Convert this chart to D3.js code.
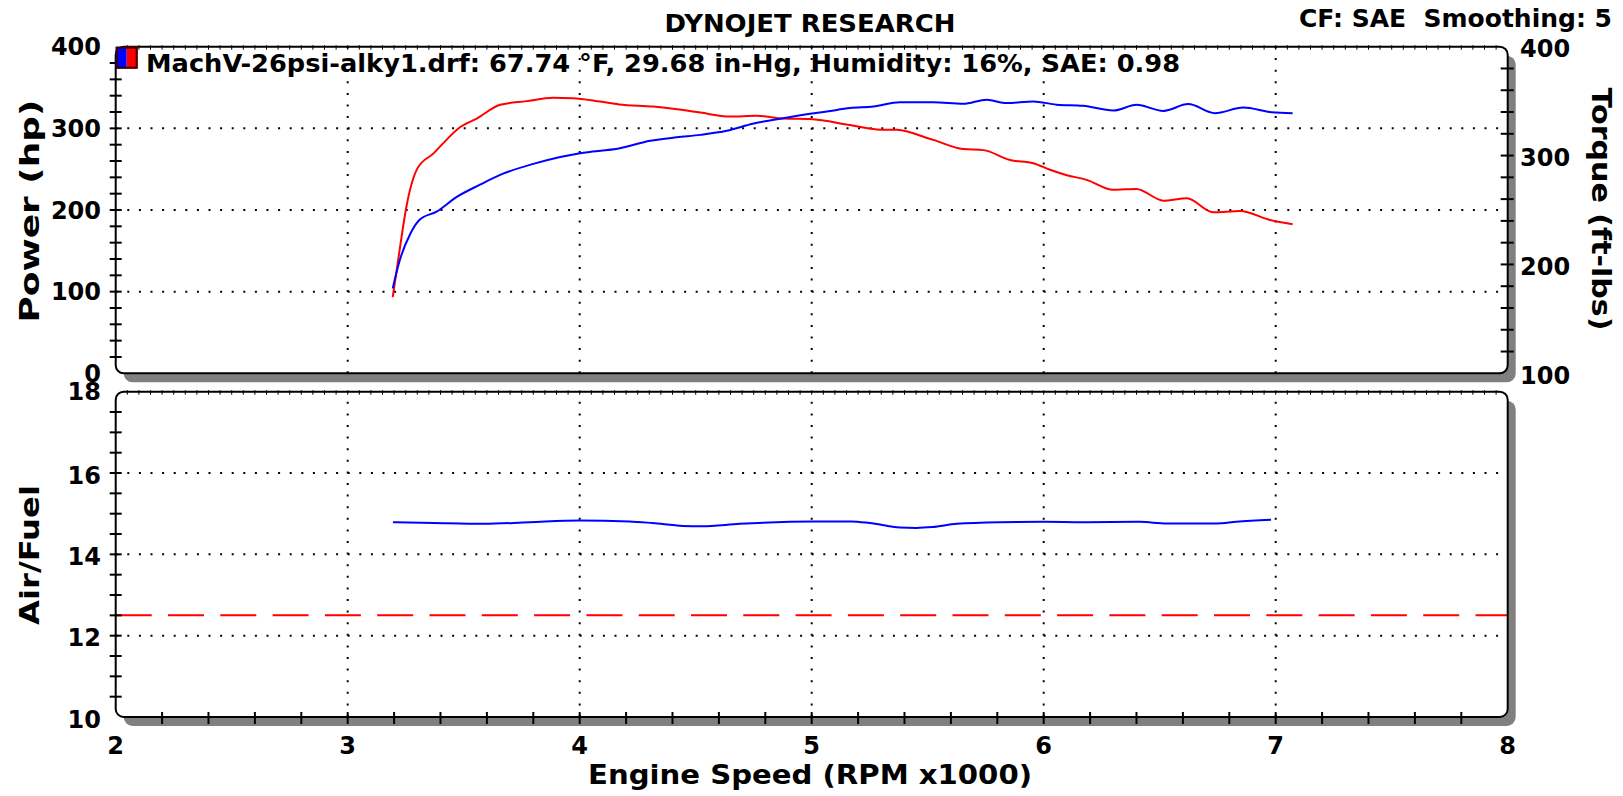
<!DOCTYPE html>
<html>
<head>
    <script src="https://d3js.org/d3.v7.min.js"></script>
    <title> Dyno chart </title>
    <style>
        body { margin: 0; background: white; }
        text { font-family: "DejaVu Sans", Verdana, sans-serif; font-weight: bold; fill: black; }
    </style>
</head>
<body>
    <svg id="plot" height="796" width="1623"></svg>
    <script>
        // data
        const powerRpm = [3.194, 3.225, 3.27, 3.31, 3.383, 3.47, 3.57, 3.657, 3.8, 3.916, 4.002, 4.174, 4.304, 4.418, 4.52, 4.634, 4.75, 4.878, 4.993, 5.065, 5.166, 5.266, 5.38, 5.524, 5.653, 5.754, 5.84, 5.955, 6.055, 6.17, 6.30, 6.40, 6.516, 6.623, 6.738, 6.86, 6.983, 7.073];
        const powerHp = [104, 139, 171, 188, 198, 216, 231, 243, 256.5, 265, 269.6, 275.7, 284.7, 289, 292, 297, 306, 312.5, 317.8, 320.6, 324.8, 326.7, 332, 332, 330, 335, 331, 333, 329, 327.6, 321.8, 328.8, 321.4, 329.7, 318.6, 325.5, 319.8, 318.6];

        const torqueRpm = [3.194, 3.225, 3.253, 3.30, 3.37, 3.41, 3.484, 3.556, 3.657, 3.77, 3.886, 3.97, 4.088, 4.17, 4.317, 4.42, 4.52, 4.648, 4.763, 4.878, 4.993, 5.165, 5.28, 5.366, 5.524, 5.653, 5.74, 5.855, 5.955, 6.027, 6.1, 6.185, 6.30, 6.40, 6.516, 6.617, 6.73, 6.846, 6.975, 7.073];
        const torqueFtLb = [170, 215, 253, 288, 302, 311, 326, 334, 346.6, 350, 353, 352.7, 349.6, 347, 345, 342.6, 339.5, 335.8, 336.5, 334, 333.5, 328, 324, 323.6, 314.4, 306, 305, 296, 293, 287, 282, 277.7, 268.5, 269.4, 258.6, 260.8, 248, 249, 240.9, 237];

        const afrRpm = [3.195, 3.372, 3.586, 3.784, 3.999, 4.214, 4.313, 4.444, 4.526, 4.69, 5.005, 5.17, 5.25, 5.38, 5.45, 5.52, 5.625, 5.81, 6.0, 6.17, 6.415, 6.53, 6.745, 6.83, 6.98];
        const afrValue = [14.79, 14.77, 14.75, 14.79, 14.83, 14.81, 14.77, 14.70, 14.69, 14.75, 14.81, 14.81, 14.77, 14.66, 14.65, 14.67, 14.75, 14.79, 14.80, 14.79, 14.80, 14.76, 14.76, 14.80, 14.85];
        const afrTarget = 12.5;

        const rpmTicks = [2, 3, 4, 5, 6, 7, 8];
        const powerTicks = [0, 100, 200, 300, 400];
        const torqueTicks = [100, 200, 300, 400];
        const afrTicks = [10, 12, 14, 16, 18];

        const legendText = 'MachV-26psi-alky1.drf: 67.74 °F, 29.68 in-Hg, Humidity: 16%, SAE: 0.98';

        const svg = d3.select('svg#plot');

        const left = 115.7, right = 1507.7;
        const top1 = 46.7, bot1 = 373.3;
        const top2 = 391.7, bot2 = 717;

        //SCALES
        const x = d3.scaleLinear().domain([2, 8]).range([left, right]);
        const yPow = d3.scaleLinear().domain([0, 400]).range([bot1, top1]);
        const yTq = d3.scaleLinear().domain([100, 400]).range([bot1, top1]);
        const yAfr = d3.scaleLinear().domain([10, 18]).range([bot2, top2]);

        // panels with grey drop shadow
        [[top1, bot1], [top2, bot2]].forEach(([t, b]) => {
            svg.append('rect')
                .attr('x', left + 8).attr('y', t + 9)
                .attr('width', right - left).attr('height', b - t)
                .attr('rx', 9)
                .style('fill', '#808080');
            svg.append('rect')
                .attr('x', left).attr('y', t)
                .attr('width', right - left).attr('height', b - t)
                .attr('rx', 8)
                .style('fill', 'white');
        });

        // dotted grid
        const grid = svg.append('g')
            .style('stroke', 'black')
            .style('stroke-width', 2)
            .style('stroke-dasharray', '2,9.6');

        [[top1, bot1], [top2, bot2]].forEach(([t, b]) => {
            rpmTicks.slice(1, -1).forEach(r => {
                grid.append('line')
                    .attr('x1', x(r)).attr('x2', x(r))
                    .attr('y1', b).attr('y2', t);
            });
        });
        powerTicks.slice(1, -1).forEach(v => {
            grid.append('line')
                .attr('x1', left).attr('x2', right)
                .attr('y1', yPow(v)).attr('y2', yPow(v));
        });
        afrTicks.slice(1, -1).forEach(v => {
            grid.append('line')
                .attr('x1', left).attr('x2', right)
                .attr('y1', yAfr(v)).attr('y2', yAfr(v));
        });

        // target A/F line
        svg.append('line')
            .attr('x1', left).attr('x2', right)
            .attr('y1', yAfr(afrTarget)).attr('y2', yAfr(afrTarget))
            .style('stroke', 'red')
            .style('stroke-width', 2)
            .style('stroke-dasharray', '36,16.3');

        // curves
        const lineOf = (xs, ys, yScale) => d3.line()
            .x((d, i) => x(xs[i]))
            .y(d => yScale(d))
            .curve(d3.curveMonotoneX)(ys);

        svg.append('path')
            .attr('d', lineOf(torqueRpm, torqueFtLb, yTq))
            .style('fill', 'none').style('stroke', 'red').style('stroke-width', 2);
        svg.append('path')
            .attr('d', lineOf(powerRpm, powerHp, yPow))
            .style('fill', 'none').style('stroke', 'blue').style('stroke-width', 2);
        svg.append('path')
            .attr('d', lineOf(afrRpm, afrValue, yAfr))
            .style('fill', 'none').style('stroke', 'blue').style('stroke-width', 2);

        // frames
        [[top1, bot1], [top2, bot2]].forEach(([t, b]) => {
            svg.append('rect')
                .attr('x', left).attr('y', t)
                .attr('width', right - left).attr('height', b - t)
                .attr('rx', 8)
                .style('fill', 'none')
                .style('stroke', 'black')
                .style('stroke-width', 2);
        });

        //tickmarks
        const ticks = svg.append('g').style('stroke', 'black').style('stroke-width', 2);
        const fine = d3.range(1, 120).map(i => 2 + i * 0.05);
        [top1, top2].forEach(t => {
            fine.forEach(r => {
                ticks.append('line')
                    .attr('x1', x(r)).attr('x2', x(r))
                    .attr('y1', t - 1.5).attr('y2', t + 3)
                    .style('stroke-width', 1);
            });
        });
        d3.range(1, 20).map(i => i * 20).forEach(v => {
            ticks.append('line')
                .attr('x1', left - 6).attr('x2', left + 6)
                .attr('y1', yPow(v)).attr('y2', yPow(v));
        });
        d3.range(1, 15).map(i => 100 + i * 20).forEach(v => {
            ticks.append('line')
                .attr('x1', right - 7).attr('x2', right + 6)
                .attr('y1', yTq(v)).attr('y2', yTq(v));
        });
        d3.range(1, 16).map(i => 10 + i * 0.5).forEach(v => {
            ticks.append('line')
                .attr('x1', left - 6).attr('x2', left + 6)
                .attr('y1', yAfr(v)).attr('y2', yAfr(v));
        });
        d3.range(1, 30).map(i => 2 + i * 0.2).forEach(r => {
            ticks.append('line')
                .attr('x1', x(r)).attr('x2', x(r))
                .attr('y1', bot2 - 5).attr('y2', bot2 + 7);
        });

        //tick labels
        powerTicks.forEach(v => {
            svg.append('text')
                .attr('x', 101).attr('y', yPow(v))
                .attr('text-anchor', 'end').attr('dy', '0.36em')
                .attr('font-size', '24px')
                .text(v);
        });
        afrTicks.forEach(v => {
            svg.append('text')
                .attr('x', 101).attr('y', yAfr(v) + (v === 18 ? 0 : 2))
                .attr('text-anchor', 'end').attr('dy', '0.36em')
                .attr('font-size', '24px')
                .text(v);
        });
        torqueTicks.forEach(v => {
            svg.append('text')
                .attr('x', 1520).attr('y', yTq(v) + 2)
                .attr('text-anchor', 'start').attr('dy', '0.36em')
                .attr('font-size', '24px')
                .text(v);
        });
        rpmTicks.forEach(r => {
            svg.append('text')
                .attr('x', x(r)).attr('y', 745)
                .attr('text-anchor', 'middle').attr('dy', '0.36em')
                .attr('font-size', '24px')
                .text(r);
        });

        // legend
        svg.append('rect')
            .attr('x', left).attr('y', top1).attr('width', 11).attr('height', 22)
            .style('fill', 'blue');
        svg.append('rect')
            .attr('x', left + 11).attr('y', top1).attr('width', 11).attr('height', 22)
            .style('fill', 'red');
        svg.append('rect')
            .attr('x', left + 1).attr('y', top1 + 1).attr('width', 20).attr('height', 20)
            .style('fill', 'none').style('stroke', '#400000').style('stroke-width', 2);
        svg.append('text')
            .attr('x', 146).attr('y', 72)
            .attr('font-size', '25px')
            .attr('textLength', 1034)
            .attr('lengthAdjust', 'spacingAndGlyphs')
            .text(legendText);

        // titles (widths matched to the wider original face)
        const title = (tx, ty, rot, size, len, anchor, s) => {
            svg.append('text')
                .attr('transform', `translate(${tx},${ty}) rotate(${rot})`)
                .attr('dy', '0.36em')
                .attr('text-anchor', anchor)
                .attr('font-size', size + 'px')
                .attr('textLength', len)
                .attr('lengthAdjust', 'spacingAndGlyphs')
                .attr('xml:space', 'preserve')
                .text(s);
        };
        title(810, 23, 0, 24, 291, 'middle', 'DYNOJET RESEARCH');
        title(1612, 18, 0, 24, 313, 'end', 'CF: SAE  Smoothing: 5');
        title(810, 774, 0, 27, 444, 'middle', 'Engine Speed (RPM x1000)');
        title(29, 211, -90, 27, 223, 'middle', 'Power (hp)');
        title(29, 555, -90, 27, 140, 'middle', 'Air/Fuel');
        title(1602, 209, 90, 27, 243, 'middle', 'Torque (ft-lbs)');
    </script>
</body>
</html>
